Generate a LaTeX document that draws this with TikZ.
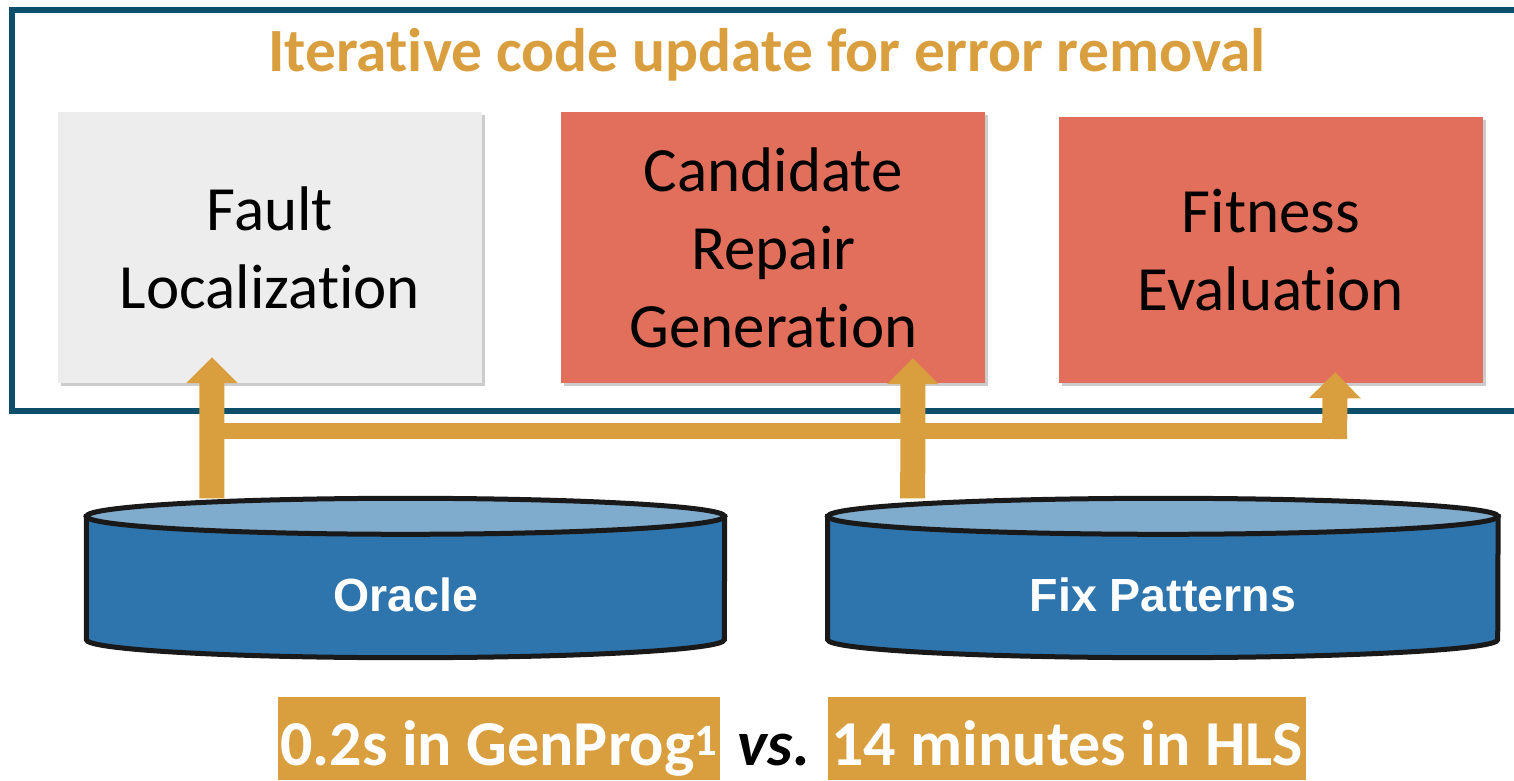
\documentclass[tikz,border=0pt]{standalone}
\usepackage{fontspec}
\setmainfont{Carlito}[Ligatures=NoCommon]
\newfontfamily\arialfont{Liberation Sans}
\usetikzlibrary{arrows.meta,shadows,positioning,backgrounds}
\definecolor{gold}{HTML}{D99F3F}
\definecolor{frame}{HTML}{0D4F6B}
\definecolor{salmon}{HTML}{E16F5B}
\definecolor{stagegray}{HTML}{EDEDED}
\definecolor{dbbody}{HTML}{2E74AD}
\definecolor{dbtop}{HTML}{7FABCD}

\begin{document}
\begin{tikzpicture}[x=1pt,y=1pt]
    \tikzstyle{stage}=[minimum width=424pt, minimum height=271pt, align=center, inner sep=0pt,
      font=\fontsize{63}{78}\selectfont,
      drop shadow={shadow xshift=3pt, shadow yshift=-3pt, opacity=0.2, fill=black}]
    \tikzstyle{flow}=[line width=25pt, gold, -{Triangle[width=50pt,length=26pt]}]
    \tikzstyle{db}=[minimum width=638pt, minimum height=159pt, inner sep=0pt, text=white,
      text height=67pt, text depth=0pt, font=\arialfont\bfseries\fontsize{46.5}{56}\selectfont]
    \tikzstyle{note}=[fill=gold, text=white, minimum height=83pt, inner sep=0pt,
      text height=60pt, text depth=7pt, font=\bfseries\fontsize{64}{70}\selectfont]
    \useasboundingbox (0,0) rectangle (1514,780);
    \draw[frame, line width=6pt] (1530,770) -- (12,770) -- (12,369.5) -- (1530,369.5);
    \node (Title) [anchor=base, text=gold, font=\bfseries\fontsize{61.5}{72}\selectfont]
      at (767,708) {Iterative code update for error removal};
    \node (Fault) [stage, fill=stagegray] at (270,532.5) {Fault\\Localization};
    \node (Cand) [stage, fill=salmon, right=79pt of Fault] {Candidate\\Repair\\Generation};
    \node (Fit) [stage, fill=salmon, minimum height=266pt, right=73pt of Cand, yshift=-2.5pt]
      {Fitness\\Evaluation};
    \node (Oracle) [db] at (405.5,202) {Oracle};
    \node (Fix) [db, minimum width=670pt, right=103pt of Oracle] {Fix Patterns};
    \begin{scope}[on background layer]
      \foreach \n/\r in {Oracle/319pt,Fix/335pt}{
        \filldraw[line width=5pt, draw=black!90, fill=dbbody]
          ([yshift=-18pt]\n.north west) -- ([yshift=18pt]\n.south west)
          arc[start angle=180, end angle=360, x radius=\r, y radius=18pt]
          -- ([yshift=-18pt]\n.north east) -- cycle;
        \filldraw[line width=5pt, draw=black!90, fill=dbtop]
          ([yshift=-18pt]\n.north) ellipse[x radius=\r, y radius=18pt];
      }
    \end{scope}
    \coordinate (fork) at (212,349);
    \coordinate (turn) at (1334.5,349);
    \draw[flow] ([xshift=125.5pt]Oracle.north west) -- ([xshift=-58pt,yshift=26pt]Fault.south);
    \draw[flow] ([xshift=85pt]Fix.north west) -- ([xshift=139.5pt,yshift=25pt]Cand.south);
    \draw[gold, line width=16pt] (fork) -- ([xshift=12.5pt]turn);
    \draw[flow] ([yshift=-8pt]turn) -- ([xshift=64.5pt,yshift=11pt]Fit.south);
    \node (Gen) [note, minimum width=442pt] at (499,41.5) {0.2s in GenProg\textsuperscript{1}};
    \node (HLS) [note, minimum width=478pt] at (1067,41.5) {14 minutes in HLS};
    \coordinate (mid) at (774,0);
    \node (vs) [anchor=base, inner sep=0pt, font=\bfseries\itshape\fontsize{64}{70}\selectfont]
      at (Gen.base -| mid) {vs.};
\end{tikzpicture}
\end{document}
